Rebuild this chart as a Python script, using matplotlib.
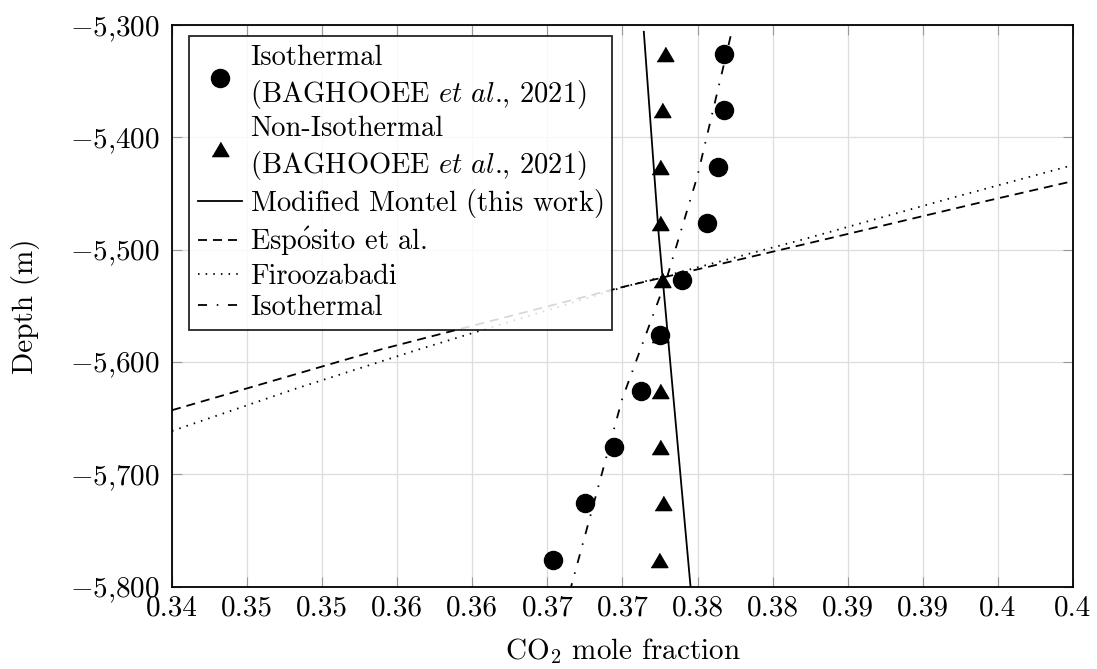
import matplotlib
matplotlib.use("Agg")
import matplotlib.pyplot as plt

plt.rcParams['font.family'] = 'serif'
plt.rcParams['font.serif'] = ['cmr10']
plt.rcParams['mathtext.fontset'] = 'cm'
plt.rcParams['axes.unicode_minus'] = False
plt.rcParams['lines.scale_dashes'] = False

# measured points (BAGHOOEE et al., 2021)
depth_pts = [-5326, -5376, -5426, -5476, -5527, -5576, -5626, -5676, -5726, -5776]
iso_x = [0.37675, 0.37675, 0.37635, 0.37565, 0.37393, 0.37247, 0.37125, 0.36942, 0.36753, 0.36538]
noniso_x = [0.3728, 0.37265, 0.37247, 0.37253, 0.37265, 0.3725, 0.37247, 0.37247, 0.37269, 0.37242]

# model curves
montel_x = [0.37142, 0.37242, 0.37453]
montel_depth = [-5306, -5488, -5800]
esposito_x = [0.34, 0.35387, 0.37009, 0.38187, 0.39431, 0.40]
esposito_depth = [-5643, -5589, -5533, -5496, -5456.5, -5439]
firoo_x = [0.34, 0.34831, 0.35631, 0.37007, 0.38187, 0.39142, 0.40]
firoo_depth = [-5661.5, -5623.5, -5589.4, -5533.3, -5491.5, -5455.8, -5424.7]
isoline_x = [0.3772, 0.37498, 0.37298, 0.36998, 0.36658]
isoline_depth = [-5310, -5435, -5524, -5633, -5800]

xticks = [0.34, 0.345, 0.35, 0.355, 0.36, 0.365, 0.37, 0.375, 0.38, 0.385, 0.39, 0.395, 0.40]
xtick_labels = ['0.34', '0.35', '0.35', '0.36', '0.36', '0.37', '0.37',
                '0.38', '0.38', '0.39', '0.39', '0.4', '0.4']
yticks = [-5800, -5700, -5600, -5500, -5400, -5300]
ytick_labels = [r'$-$5,800', r'$-$5,700', r'$-$5,600', r'$-$5,500', r'$-$5,400', r'$-$5,300']

fig = plt.figure(figsize=(10.97, 6.69), dpi=100)
ax = fig.add_axes([0.1568, 0.1233, 0.8213, 0.8393])

tri = [(-1, -0.85), (1, -0.85), (0, 0.85)]
lw = 1.3

ax.plot(iso_x, depth_pts, linestyle='none', marker='o', ms=13, color='black',
        label='Isothermal\n(BAGHOOEE $\\mathit{et\\ al}$., 2021)', zorder=4)
ax.plot(noniso_x, depth_pts, linestyle='none', marker=tri, ms=12, color='black',
        label='Non-Isothermal\n(BAGHOOEE $\\mathit{et\\ al}$., 2021)', zorder=4)
ax.plot(montel_x, montel_depth, color='black', lw=lw,
        label='Modified Montel (this work)$\\hspace{0.75}$', zorder=3)
ax.plot(esposito_x, esposito_depth, color='black', lw=lw, dashes=(6.5, 4.3),
        label='Esp$\\mathrm{\\acute{o}}$sito et al.', zorder=3)
ax.plot(firoo_x, firoo_depth, color='black', lw=lw, dashes=(1.1, 4.4),
        label='Firoozabadi', zorder=3)
ax.plot(isoline_x, isoline_depth, color='black', lw=lw, dashes=(6.5, 7.0, 1.1, 7.0),
        label='Isothermal', zorder=3)

ax.set_xlim(0.34, 0.40)
ax.set_ylim(-5800, -5300)
ax.set_xticks(xticks)
ax.set_xticklabels(xtick_labels)
ax.set_yticks(yticks)
ax.set_yticklabels(ytick_labels)
ax.tick_params(direction='in', length=7.5, width=0.8, color='#999999', labelsize=21,
               top=True, right=True, pad=6)
ax.tick_params(axis='y', pad=9)
ax.grid(True, color='#dddddd', lw=0.9)
ax.set_axisbelow(True)
for s in ax.spines.values():
    s.set_linewidth(1.3)

ax.set_xlabel(r'CO$_2$ mole fraction', fontsize=21)
ax.set_ylabel('Depth (m)', fontsize=21)
ax.xaxis.set_label_coords(0.5, -0.088)
ax.yaxis.set_label_coords(-0.146, 0.5)

leg = ax.legend(loc='upper left', bbox_to_anchor=(0.0189, 0.980), borderaxespad=0,
                fontsize=20.5, fancybox=False, edgecolor='black', framealpha=0.85,
                handlelength=1.55, handletextpad=0.3, labelspacing=0.18, borderpad=0.3)
leg.get_frame().set_linewidth(1.3)
for t in leg.get_texts():
    t.set_linespacing(1.28)

fig.savefig('out.png', dpi=100)
